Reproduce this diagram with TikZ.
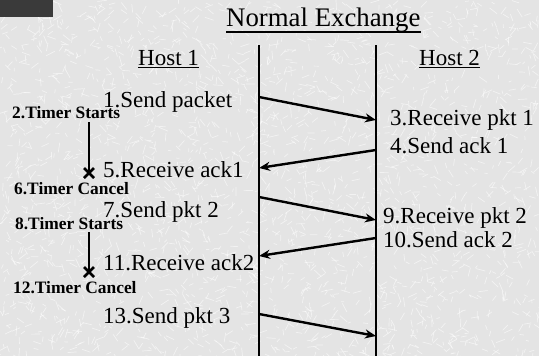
\documentclass[tikz,border=0pt]{standalone}
\usepackage{fontspec}
\setmainfont{Liberation Serif}
\usetikzlibrary{arrows.meta}
\definecolor{paper}{RGB}{228,228,228}
\definecolor{corner}{RGB}{58,58,58}
\tikzset{
  big/.style={anchor=base west, inner sep=0pt, font=\fontsize{23}{26}\selectfont},
  head/.style={anchor=base west, inner sep=0pt, font=\fontsize{26.8}{30}\selectfont},
  timer/.style={anchor=base west, inner sep=0pt, font=\bfseries\fontsize{17.4}{20}\selectfont},
  life/.style={line width=2.8pt},
  msg/.style={line width=2.4pt, -{Stealth[length=11pt,width=9pt]}},
  tick/.style={line width=1.8pt},
  cross/.style={line width=2.6pt},
  uline/.style={line width=1.2pt}
}
\begin{document}
\begin{tikzpicture}[x=1pt,y=-1pt]
% paper background with a fine streaky texture
\fill[paper] (0,0) rectangle (539,356);
\useasboundingbox (0,0) rectangle (539,356);
\pgfmathsetseed{11}
\foreach \i in {1,...,2600}{
  \pgfmathsetmacro\px{rnd*539}
  \pgfmathsetmacro\py{rnd*356}
  \pgfmathsetmacro\pa{rnd*180}
  \pgfmathsetmacro\pl{3+rnd*7}
  \draw[white, line width=0.7pt, opacity=0.55] (\px,\py) -- ++(\pa:\pl);
}
\fill[corner] (0,0) rectangle (53,17);

% headings
\node[head] (title) at (226,27) {Normal Exchange};
\draw[uline] ([yshift=-5pt]title.base west) -- ([yshift=-5pt]title.base east);
\node[big] (host1) at (138,65) {Host 1};
\draw[uline] ([yshift=-2.5pt]host1.base west) -- ([yshift=-2.5pt]host1.base east);
\node[big] (host2) at (419,65) {Host 2};
\draw[uline] ([yshift=-2.5pt]host2.base west) -- ([yshift=-2.5pt]host2.base east);

% lifelines
\coordinate (h1top) at (259,45);
\coordinate (h1bot) at (259,356);
\coordinate (h2top) at (376,45);
\coordinate (h2bot) at (376,356);
\draw[life] (h1top) -- (h1bot);
\draw[life] (h2top) -- (h2bot);

% message points on the lifelines
\coordinate (s1) at (259,97);  \coordinate (r1) at (376,120);
\coordinate (s2) at (376,150); \coordinate (r2) at (259,168);
\coordinate (s3) at (259,197); \coordinate (r3) at (376,220);
\coordinate (s4) at (376,238); \coordinate (r4) at (259,256);
\coordinate (s5) at (259,314); \coordinate (r5) at (376,336);
\draw[msg] (s1) -- (r1);
\draw[msg] (s2) -- (r2);
\draw[msg] (s3) -- (r3);
\draw[msg] (s4) -- (r4);
\draw[msg] (s5) -- (r5);

% event labels
\node[big] (e1) at (103,107) {1.Send packet};
\node[big] (e3) at (390,125) {3.Receive pkt 1};
\node[big] (e4) at (390,153) {4.Send ack 1};
\node[big] (e5) at (103,177) {5.Receive ack1};
\node[big] (e7) at (103,217) {7.Send pkt 2};
\node[big] (e9) at (383,223) {9.Receive pkt 2};
\node[big] (e10) at (383,247) {10.Send ack 2};
\node[big] (e11) at (103,270) {11.Receive ack2};
\node[big] (e13) at (103,323) {13.Send pkt 3};

% timers
\node[timer] (t2) at (12,118) {2.Timer Starts};
\node[timer] (t6) at (14,194) {6.Timer Cancel};
\node[timer] (t8) at (15,229) {8.Timer Starts};
\node[timer] (t12) at (13,293) {12.Timer Cancel};
\coordinate (ta) at (89,122); \coordinate (xa) at (89,173);
\coordinate (tb) at (89,232); \coordinate (xb) at (89,272);
\draw[tick] (ta) -- (xa);
\draw[tick] (tb) -- (xb);
\foreach \c in {xa,xb}{
  \draw[cross] ([shift={(-5,-5)}]\c) -- ([shift={(5,5)}]\c);
  \draw[cross] ([shift={(-5,5)}]\c) -- ([shift={(5,-5)}]\c);
}
\end{tikzpicture}
\end{document}
